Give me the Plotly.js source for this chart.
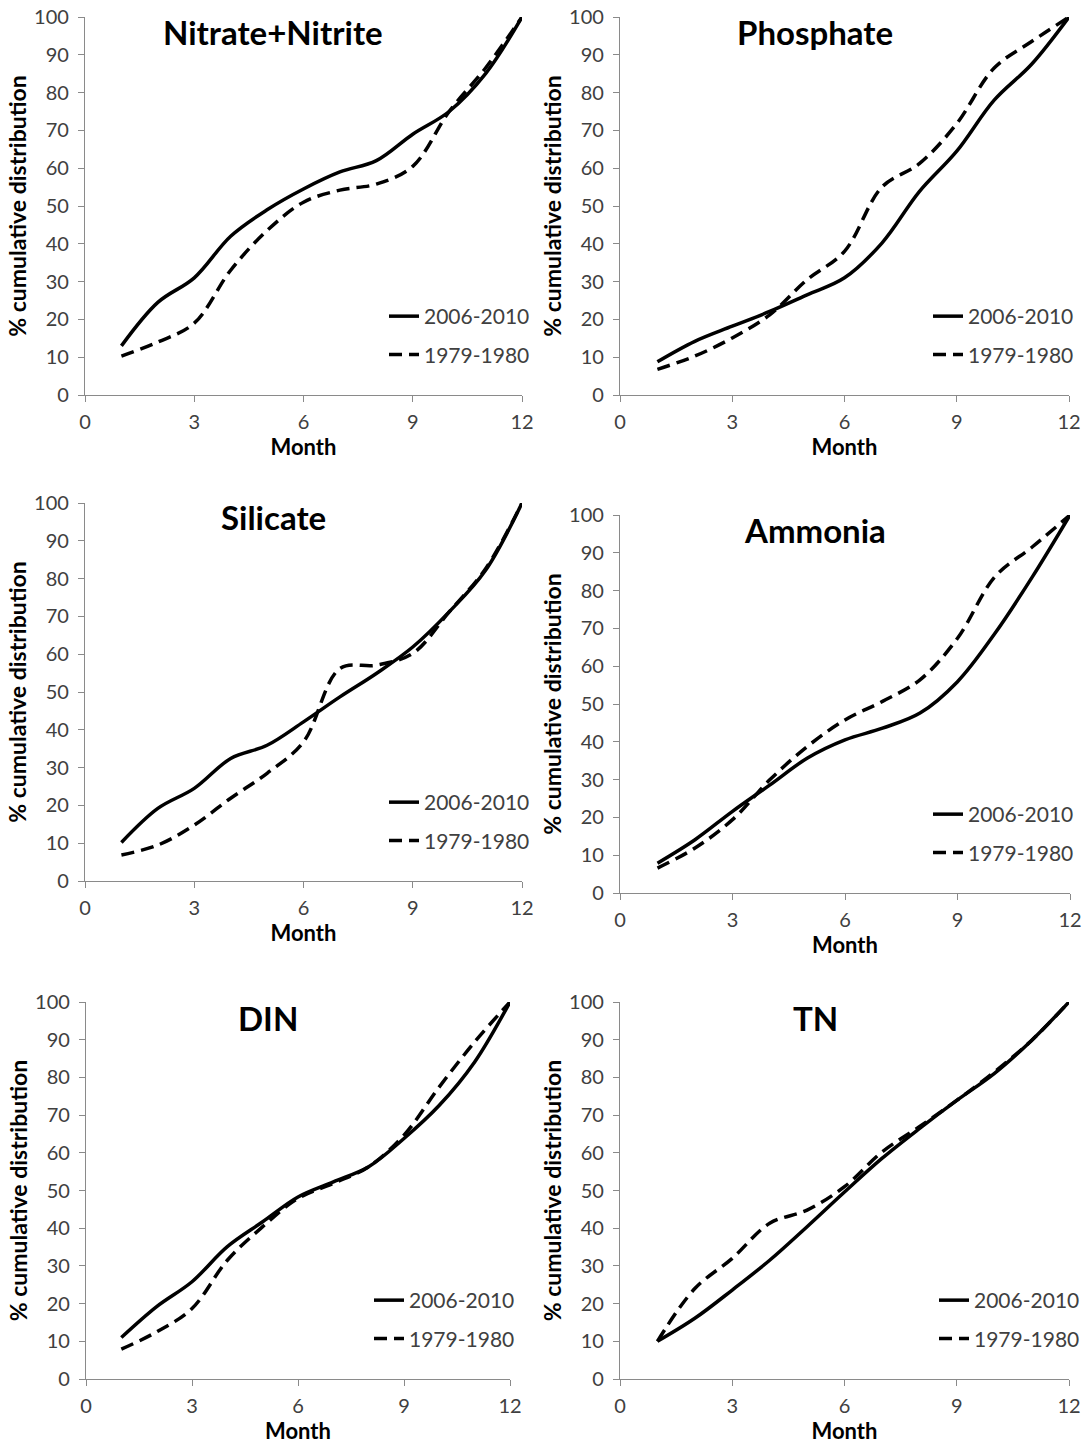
<!DOCTYPE html>
<html>
<head>
<meta charset="utf-8">
<script src="https://cdn.plot.ly/plotly-3.0.1.min.js"></script>
<style>html,body{margin:0;padding:0;background:#fff;}#chart{width:1090px;height:1445px;}</style>
</head>
<body>
<div id="chart"></div>
<script>
// ---------- data ----------
const months = [1, 2, 3, 4, 5, 6, 7, 8, 9, 10, 11, 12];
const seriesNames = ["2006-2010", "1979-1980"];
const panelTitles = ["Nitrate+Nitrite", "Phosphate", "Silicate", "Ammonia", "DIN", "TN"];

const nitrateRecent = [13, 24.5, 31, 42, 49, 54.5, 59, 62, 69, 75, 85, 100];
const nitrateOld    = [10.3, 14, 19, 33, 43.5, 51, 54.2, 55.8, 60.5, 75, 86.5, 100];

const phosphateRecent = [8.8, 14.2, 18.2, 22.1, 26.5, 31, 40.2, 53.8, 64.5, 78, 87.5, 100];
const phosphateOld    = [6.8, 10.3, 15.1, 21.2, 30.5, 38, 55, 61.2, 71.8, 86.5, 93.5, 100];

const silicateRecent = [10.2, 19.2, 24.5, 32.4, 35.9, 42.1, 48.7, 54.9, 61.9, 71.2, 82.2, 100];
const silicateOld    = [6.9, 9.5, 14.8, 21.9, 28.5, 36.8, 56.2, 57.1, 60.2, 71.2, 82.6, 100];

const ammoniaRecent = [7.9, 14.1, 21.6, 28.6, 35.7, 40.5, 43.6, 47.6, 55.9, 68.7, 83.7, 100];
const ammoniaOld    = [6.6, 11.9, 19.4, 30, 38.8, 45.8, 50.7, 56.4, 67.4, 83.7, 91.6, 100];

const dinRecent = [11, 19.2, 25.8, 35.1, 41.7, 48.3, 52.3, 56.3, 63.8, 72.6, 84.1, 100];
const dinOld    = [7.9, 12.5, 18.7, 31.5, 40.4, 47.9, 51.9, 56.3, 64.7, 77.5, 89.4, 100];

const tnRecent = [10, 16.1, 23.6, 31.5, 40.4, 49.6, 58.5, 66.4, 73.9, 81, 89.8, 100];
const tnOld    = [10, 24, 32, 41.3, 44.8, 51, 60.2, 66.9, 73.9, 81.4, 89.8, 100];

const xTickVals = [0, 3, 6, 9, 12];
const yTickVals = [0, 10, 20, 30, 40, 50, 60, 70, 80, 90, 100];
const xTitle = "Month";
const yTitle = "% cumulative distribution";

const panelData = [
  [nitrateRecent, nitrateOld],
  [phosphateRecent, phosphateOld],
  [silicateRecent, silicateOld],
  [ammoniaRecent, ammoniaOld],
  [dinRecent, dinOld],
  [tnRecent, tnOld]
];

// ---------- layout geometry (pixels of the 1090x1445 page) ----------
const W = 1090, H = 1445;
const px = v => v / W;
const py = v => 1 - v / H;
// [left, right, top, bottom] of each plot area
const boxes = [
  [85, 522, 17, 395],
  [620, 1069, 17, 395],
  [85, 522, 503, 881],
  [620, 1070, 515, 893],
  [86, 510, 1002, 1379],
  [620, 1069, 1002, 1379]
];
// legend anchor: [left of legend, top of legend]
const legendPos = [
  [384, 296], [928, 296],
  [384, 782], [928, 794],
  [369, 1280], [934, 1280]
];
// panel title centre: [x, y]
const titlePos = [
  [273, 32], [815, 32],
  [273, 517], [815, 530],
  [268, 1018], [815, 1018]
];

const FONT = "Lato, 'Open Sans', sans-serif";
const axisColor = "#8a8a8a";
const tickColor = "#404040";

const traces = [];
const layout = {
  width: W, height: H,
  margin: {l: 0, r: 0, t: 0, b: 0},
  paper_bgcolor: "#fff", plot_bgcolor: "#fff",
  font: {family: FONT, color: tickColor},
  showlegend: true,
  annotations: []
};

panelData.forEach((pair, i) => {
  const n = i + 1;
  const xa = n === 1 ? "x" : "x" + n;
  const ya = n === 1 ? "y" : "y" + n;
  const lg = n === 1 ? "legend" : "legend" + n;
  const b = boxes[i];
  pair.forEach((vals, k) => {
    traces.push({
      type: "scatter", mode: "lines",
      x: months, y: vals,
      xaxis: xa, yaxis: ya,
      name: seriesNames[k],
      legend: lg,
      legendgroup: "g" + n + "_" + k,
      line: {color: "#000", width: 3.5, shape: "spline", smoothing: 1,
             dash: k === 0 ? "solid" : "13px,7px"},
      hoverinfo: "x+y+name"
    });
  });
  layout[n === 1 ? "xaxis" : "xaxis" + n] = {
    domain: [px(b[0]), px(b[1])], anchor: ya,
    range: [0, 12], tickvals: xTickVals, ticktext: xTickVals.map(String),
    showgrid: false, zeroline: false, showline: true,
    linecolor: axisColor, linewidth: 1.3,
    ticks: "outside", ticklen: 6, tickcolor: axisColor, tickwidth: 1.3,
    tickfont: {size: 20, color: tickColor, family: FONT},
    ticklabelstandoff: 3,
    title: {text: xTitle, font: {size: 22, color: "#000", family: FONT, weight: "bold"}, standoff: 0},
    fixedrange: true
  };
  layout[n === 1 ? "yaxis" : "yaxis" + n] = {
    domain: [py(b[3]), py(b[2])], anchor: xa,
    range: [0, 100], tickvals: yTickVals, ticktext: yTickVals.map(String),
    showgrid: false, zeroline: false, showline: true,
    linecolor: axisColor, linewidth: 1.3,
    ticks: "outside", ticklen: 6, tickcolor: axisColor, tickwidth: 1.3,
    tickfont: {size: 20, color: tickColor, family: FONT},
    ticklabelstandoff: 5,
    title: {text: yTitle, font: {size: 23, color: "#000", family: FONT, weight: "bold"}, standoff: 0},
    fixedrange: true
  };
  const lp = legendPos[i];
  layout[lg] = {
    x: px(lp[0]), y: py(lp[1]), xanchor: "left", yanchor: "top",
    bgcolor: "rgba(0,0,0,0)", borderwidth: 0,
    font: {size: 21, color: tickColor, family: FONT},
    tracegroupgap: 8, itemclick: false, itemdoubleclick: false
  };
  const tp = titlePos[i];
  layout.annotations.push({
    xref: "paper", yref: "paper",
    x: px(tp[0]), y: py(tp[1]),
    xanchor: "center", yanchor: "middle",
    text: "<b>" + panelTitles[i] + "</b>", showarrow: false,
    font: {size: 33, color: "#000", family: FONT}
  });
});

Plotly.newPlot("chart", traces, layout, {displayModeBar: false});
</script>
</body>
</html>
